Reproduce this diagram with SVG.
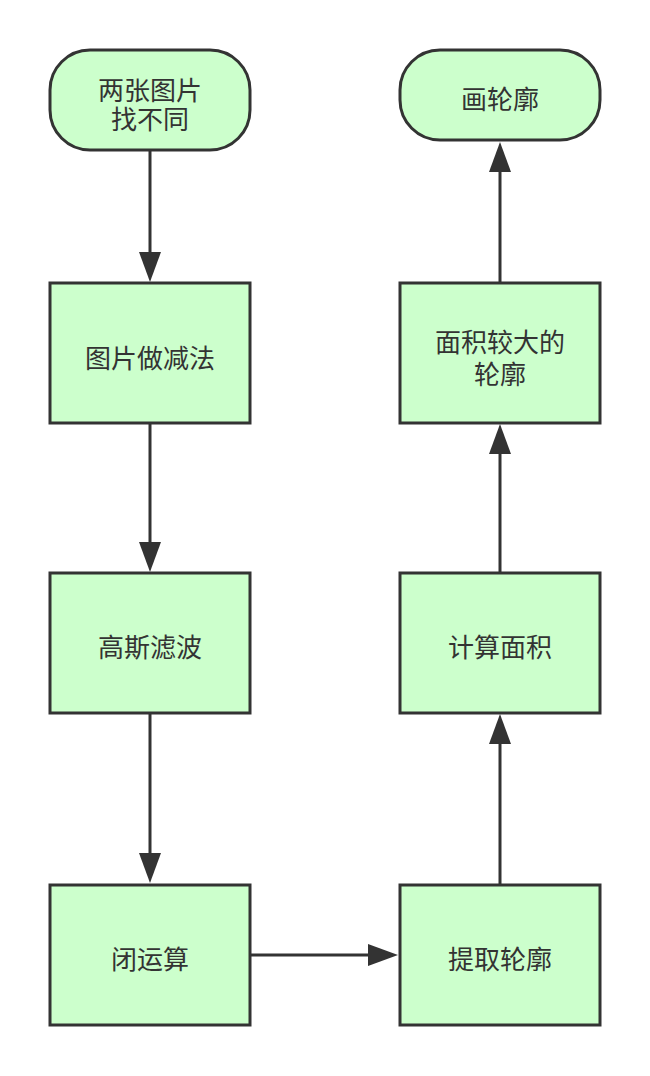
<svg xmlns="http://www.w3.org/2000/svg" width="650" height="1076" viewBox="0 0 650 1076">
<style>
.n{fill:#CCFFCC;stroke:#333333;stroke-width:3}
.t{font-family:"Noto Sans CJK SC","Noto Sans",sans-serif;font-size:26px;fill:#333333;text-anchor:middle}
.c{stroke:#333333;stroke-width:3;fill:none;marker-end:url(#ah)}
</style>
<defs>
<marker id="ah" markerUnits="userSpaceOnUse" markerWidth="32" markerHeight="24" viewBox="0 0 32 24" refX="2" refY="11" orient="auto">
<path d="M0,0 L30,11 L0,22 Z" fill="#333333"/>
</marker>
</defs>
<rect width="650" height="1076" fill="#FFFFFF"/>
<g id="connectors">
<line class="c" x1="150" y1="150" x2="150" y2="254"/>
<line class="c" x1="150" y1="423" x2="150" y2="544"/>
<line class="c" x1="150" y1="713" x2="150" y2="855"/>
<line class="c" x1="250" y1="955" x2="370" y2="955"/>
<line class="c" x1="500" y1="885" x2="500" y2="742"/>
<line class="c" x1="500" y1="573" x2="500" y2="452"/>
<line class="c" x1="500" y1="283" x2="500" y2="170"/>
</g>
<g id="start">
<rect class="n" x="50" y="50" width="200" height="100" rx="40" ry="40"/>
<text class="t" x="150" y="100">两张图片</text>
<text class="t" x="150" y="129">找不同</text>
</g>
<g id="subtract">
<rect class="n" x="50" y="283" width="200" height="140"/>
<text class="t" x="150" y="368">图片做减法</text>
</g>
<g id="gauss">
<rect class="n" x="50" y="573" width="200" height="140"/>
<text class="t" x="150" y="657">高斯滤波</text>
</g>
<g id="close">
<rect class="n" x="50" y="885" width="200" height="140"/>
<text class="t" x="150" y="969">闭运算</text>
</g>
<g id="extract">
<rect class="n" x="400" y="885" width="200" height="140"/>
<text class="t" x="500" y="969">提取轮廓</text>
</g>
<g id="area">
<rect class="n" x="400" y="573" width="200" height="140"/>
<text class="t" x="500" y="657">计算面积</text>
</g>
<g id="large">
<rect class="n" x="400" y="283" width="200" height="140"/>
<text class="t" x="500" y="352">面积较大的</text>
<text class="t" x="500" y="384">轮廓</text>
</g>
<g id="draw">
<rect class="n" x="400" y="50" width="200" height="90" rx="40" ry="40"/>
<text class="t" x="500" y="109">画轮廓</text>
</g>
</svg>
